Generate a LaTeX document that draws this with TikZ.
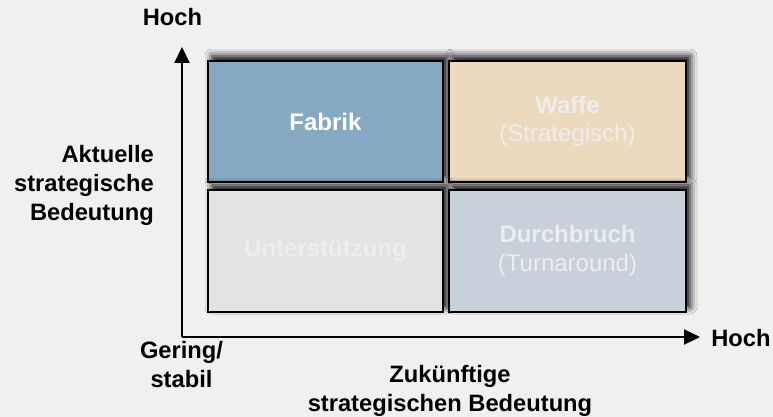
\documentclass[tikz,border=0pt]{standalone}
\usepackage{fontspec}
\setmainfont{Liberation Sans}
\usetikzlibrary{arrows.meta,shadows.blur}
\definecolor{bgc}{HTML}{F0F0F0}
\definecolor{fabrikc}{HTML}{86A9C2}
\definecolor{waffec}{HTML}{ECD9BE}
\definecolor{unterc}{HTML}{E3E3E3}
\definecolor{durchc}{HTML}{C8D0DA}
\definecolor{palec}{HTML}{EDEDED}
\tikzset{
  quad/.style={draw=black, line width=2pt, inner sep=0pt, align=center,
    minimum height=121pt,
    blur shadow={shadow xshift=4pt, shadow yshift=5pt, shadow blur radius=7pt, shadow opacity=100},
    font=\fontsize{24}{28.5}\selectfont},
  axis/.style={line width=2.2pt, -{Triangle[length=16pt,width=15pt]}},
  lbl/.style={inner sep=0pt, align=center, font=\fontsize{23.7}{29}\selectfont\bfseries},
}
\begin{document}
\begin{tikzpicture}[x=1pt,y=-1pt]
\useasboundingbox (0,0) rectangle (773,417);
\fill[bgc] (0,0) rectangle (773,417);

\node[quad, fill=fabrikc, minimum width=235pt, text=white] (fabrik) at (325.5,121.5) {\textbf{Fabrik}};
\node[quad, fill=waffec, minimum width=237pt, text=palec] (waffe) at (567.5,121.5) {\textbf{Waffe}\\(Strategisch)};
\node[quad, fill=unterc, minimum width=235pt, minimum height=122pt, text=palec] (unter) at (325.5,251) {\textbf{Unterstützung}};
\node[quad, fill=durchc, minimum width=237pt, minimum height=122pt, text=palec] (durch) at (567.5,251) {\textbf{Durchbruch}\\(Turnaround)};

\coordinate (origin) at (182,337);
\coordinate (ytip) at (182,47);
\coordinate (xtip) at (700,337);
\draw[axis] (origin) -- (ytip);
\draw[axis] (origin) -- (xtip);

\node[lbl, anchor=base] (hochy) at (172.5,26) {Hoch};
\node[lbl, anchor=base] (hochx) at (741,346) {Hoch};
\node[lbl, align=right, anchor=east] (aktuell) at (154,185.5) {Aktuelle\\strategische\\Bedeutung};
\node[lbl] (gering) at (181.5,364.5) {Gering/\\stabil};
\node[lbl] (zukunft) at (450,391.3) {Zukünftige\\strategischen Bedeutung};
\end{tikzpicture}
\end{document}
